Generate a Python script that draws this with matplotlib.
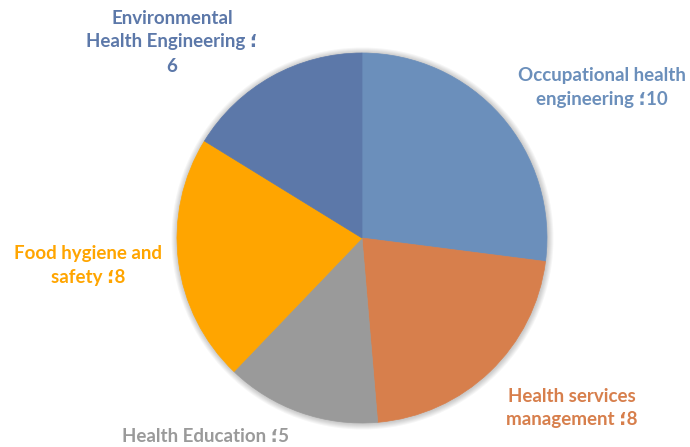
import matplotlib.pyplot as plt
from matplotlib.patches import Circle

labels = ["Occupational health\nengineering \u061b10",
          "Health services\nmanagement \u061b8",
          "Health Education \u061b5",
          "Food hygiene and\nsafety \u061b8",
          "Environmental\nHealth Engineering \u061b\n6"]
values = [10, 8, 5, 8, 6]
colors = ["#6B8FBB", "#D77F4C", "#9A9A9A", "#FFA500", "#5C78A9"]

# label centres in pixel coordinates (origin bottom-left)
label_pos = [(602, 360), (572, 39), (206, 11), (88, 181), (172, 405)]

fig = plt.figure(figsize=(6.9, 4.47), dpi=100)
ax = fig.add_axes([0, 0, 1, 1])

# soft shadow round the pie
cx, cy, r = 362, 209, 185
for k in range(6, 0, -1):
    ax.add_patch(Circle((cx + 0.5, cy - 0.5), r + k, color="black",
                        alpha=0.035, lw=0, zorder=0))

wedges, _ = ax.pie(values, colors=colors, startangle=90, counterclock=False,
                   center=(cx, cy), radius=r,
                   wedgeprops=dict(linewidth=0.5, zorder=1))
for w, c in zip(wedges, colors):
    w.set_edgecolor(c)

ax.set_xlim(0, 690)
ax.set_ylim(0, 447)
ax.set_aspect("equal")
ax.axis("off")

for lab, (x, y), c in zip(labels, label_pos, colors):
    ax.text(x, y, lab, color=c, ha="center", va="center", fontsize=13.5,
            fontweight="bold", family=["Lato", "DejaVu Sans"],
            linespacing=1.5)

fig.savefig("out.png", dpi=100)
